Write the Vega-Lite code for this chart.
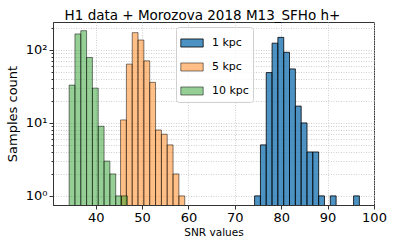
{
  "$schema": "https://vega.github.io/schema/vega-lite/v6.json",
  "width": 321,
  "height": 183,
  "autosize": {"type": "none"},
  "padding": {"left": 53, "top": 22, "right": 19, "bottom": 38},
  "background": "white",
  "title": {"text": "H1 data + Morozova 2018 M13_SFHo h+", "font": "DejaVu Sans", "fontSize": 13.5, "fontWeight": "normal", "color": "black", "anchor": "middle", "frame": "group", "dx": -11, "dy": 15, "offset": 4, "baseline": "alphabetic"},
  "config": {"view": {"stroke": "#333", "strokeWidth": 1}, "font": "DejaVu Sans"},
  "data": {"values": [
    {"series": "1 kpc", "lo": 74.26, "hi": 75.52, "count": 1},
    {"series": "1 kpc", "lo": 75.52, "hi": 76.77, "count": 5},
    {"series": "1 kpc", "lo": 76.77, "hi": 78.03, "count": 49},
    {"series": "1 kpc", "lo": 78.03, "hi": 79.28, "count": 124},
    {"series": "1 kpc", "lo": 79.28, "hi": 80.54, "count": 149},
    {"series": "1 kpc", "lo": 80.54, "hi": 81.79, "count": 93},
    {"series": "1 kpc", "lo": 81.79, "hi": 83.05, "count": 55},
    {"series": "1 kpc", "lo": 83.05, "hi": 84.30, "count": 17},
    {"series": "1 kpc", "lo": 84.30, "hi": 85.56, "count": 10},
    {"series": "1 kpc", "lo": 85.56, "hi": 86.81, "count": 4},
    {"series": "1 kpc", "lo": 86.81, "hi": 88.07, "count": 4},
    {"series": "1 kpc", "lo": 88.07, "hi": 89.32, "count": 1},
    {"series": "1 kpc", "lo": 90.58, "hi": 91.83, "count": 1},
    {"series": "1 kpc", "lo": 95.60, "hi": 96.85, "count": 1},
    {"series": "5 kpc", "lo": 45.36, "hi": 46.62, "count": 11},
    {"series": "5 kpc", "lo": 46.62, "hi": 47.88, "count": 64},
    {"series": "5 kpc", "lo": 47.88, "hi": 49.13, "count": 173},
    {"series": "5 kpc", "lo": 49.13, "hi": 50.39, "count": 137},
    {"series": "5 kpc", "lo": 50.39, "hi": 51.65, "count": 71},
    {"series": "5 kpc", "lo": 51.65, "hi": 52.91, "count": 36},
    {"series": "5 kpc", "lo": 52.91, "hi": 54.17, "count": 8},
    {"series": "5 kpc", "lo": 54.17, "hi": 55.42, "count": 7},
    {"series": "5 kpc", "lo": 55.42, "hi": 56.68, "count": 5},
    {"series": "5 kpc", "lo": 56.68, "hi": 57.94, "count": 2},
    {"series": "5 kpc", "lo": 57.94, "hi": 59.20, "count": 1},
    {"series": "10 kpc", "lo": 34.28, "hi": 35.53, "count": 33},
    {"series": "10 kpc", "lo": 35.53, "hi": 36.79, "count": 166},
    {"series": "10 kpc", "lo": 36.79, "hi": 38.04, "count": 184},
    {"series": "10 kpc", "lo": 38.04, "hi": 39.30, "count": 79},
    {"series": "10 kpc", "lo": 39.30, "hi": 40.55, "count": 30},
    {"series": "10 kpc", "lo": 40.55, "hi": 41.81, "count": 9},
    {"series": "10 kpc", "lo": 41.81, "hi": 43.06, "count": 3},
    {"series": "10 kpc", "lo": 43.06, "hi": 44.32, "count": 2},
    {"series": "10 kpc", "lo": 44.32, "hi": 45.57, "count": 1},
    {"series": "10 kpc", "lo": 45.57, "hi": 46.83, "count": 1}
  ]},
  "mark": {"type": "bar", "clip": true, "strokeWidth": 1},
  "encoding": {
    "x": {"field": "lo", "type": "quantitative",
      "scale": {"domain": [30.8, 100], "nice": false, "zero": false},
      "axis": {"values": [40, 50, 60, 70, 80, 90, 100], "title": "SNR values", "titleFontSize": 10.5, "titleFontWeight": "normal", "titleColor": "black", "titlePadding": 3,
        "labelFontSize": 13, "labelColor": "black", "labelFlush": false, "labelPadding": 2,
        "tickSize": 4, "tickColor": "#333", "domainColor": "#333",
        "grid": true, "gridDash": [1, 1.5], "gridColor": "#c4c4c4", "gridWidth": 0.8}},
    "x2": {"field": "hi"},
    "y": {"field": "count", "type": "quantitative",
      "scale": {"type": "log", "domain": [0.75, 242], "nice": false},
      "axis": {"values": [1, 2, 3, 4, 5, 6, 7, 8, 9, 10, 20, 30, 40, 50, 60, 70, 80, 90, 100, 200],
        "labelExpr": "datum.value == 1 ? '10⁰' : datum.value == 10 ? '10¹' : datum.value == 100 ? '10²' : ''",
        "labelOverlap": false, "labelFontSize": 13, "labelColor": "black", "labelPadding": 2,
        "title": "Samples count", "titleFontSize": 13, "titleFontWeight": "normal", "titleColor": "black", "titlePadding": 6,
        "tickSize": {"condition": {"test": "datum.value == 1 || datum.value == 10 || datum.value == 100", "value": 4}, "value": 2},
        "tickColor": "#333", "domainColor": "#333",
        "grid": true, "gridDash": [1, 1.5], "gridColor": "#c4c4c4", "gridWidth": 0.8}},
    "y2": {"datum": 0.5},
    "fill": {"field": "series", "type": "nominal",
      "scale": {"domain": ["1 kpc", "5 kpc", "10 kpc"], "range": ["rgba(31,119,180,0.8)", "rgba(255,127,14,0.5)", "rgba(44,160,44,0.5)"]},
      "legend": {"title": null, "orient": "none", "legendX": 123, "legendY": 5, "padding": 4, "rowPadding": 5,
        "symbolType": "M-1,-0.36H1V0.36H-1Z", "symbolSize": 500, "symbolStrokeWidth": 1, "labelFontSize": 11, "labelColor": "black", "labelOffset": 8,
        "strokeColor": "#d0d0d0", "fillColor": "rgba(255,255,255,0.8)", "cornerRadius": 3}},
    "stroke": {"field": "series", "type": "nominal",
      "scale": {"domain": ["1 kpc", "5 kpc", "10 kpc"], "range": ["rgba(0,0,0,0.8)", "rgba(0,0,0,0.5)", "rgba(0,0,0,0.5)"]},
      "legend": {"title": null, "orient": "none", "legendX": 123, "legendY": 5, "padding": 4, "rowPadding": 5,
        "symbolType": "M-1,-0.36H1V0.36H-1Z", "symbolSize": 500, "symbolStrokeWidth": 1, "labelFontSize": 11, "labelColor": "black", "labelOffset": 8,
        "strokeColor": "#d0d0d0", "fillColor": "rgba(255,255,255,0.8)", "cornerRadius": 3}}
  }
}
